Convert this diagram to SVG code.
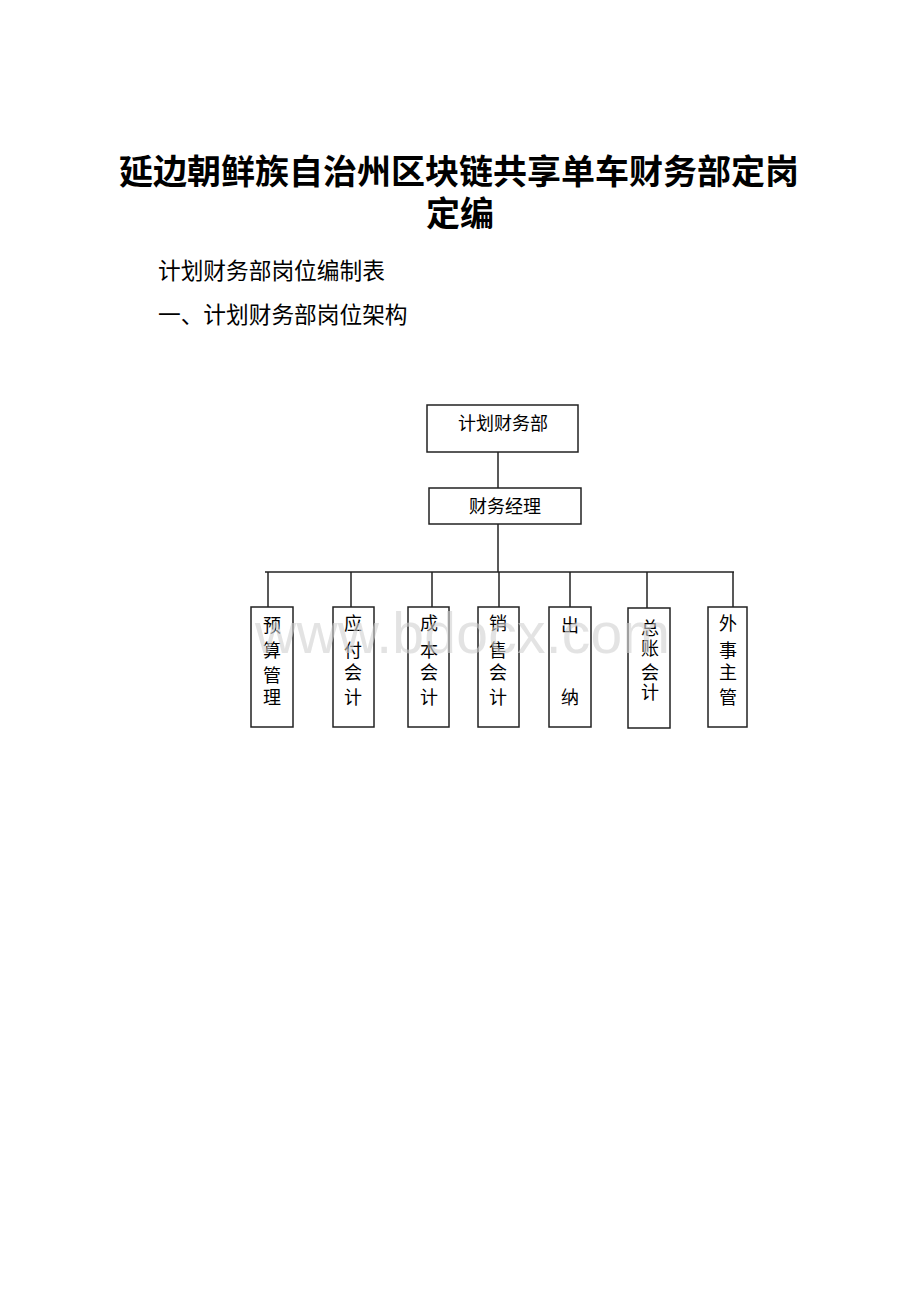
<svg xmlns="http://www.w3.org/2000/svg" width="920" height="1302" viewBox="0 0 920 1302">
<style>
.t{font-family:"Noto Sans CJK SC","Liberation Sans",sans-serif;fill:#000}
.title{font-size:34px;font-weight:bold;text-anchor:middle}
.h{font-size:22.7px}
.n{font-size:18px;text-anchor:middle}
.box{fill:#fff;stroke:#222;stroke-width:1.5}
.ln{stroke:#222;stroke-width:1.5;fill:none}
.wm{font-family:"Liberation Sans",Arial,sans-serif;font-size:57px;fill:#d0d0d0;fill-opacity:0.6}
</style>
<rect width="920" height="1302" fill="#fff"/>
<text class="t title" x="459" y="184">延边朝鲜族自治州区块链共享单车财务部定岗</text>
<text class="t title" x="460" y="226">定编</text>
<text class="t h" x="158" y="279">计划财务部岗位编制表</text>
<text class="t h" x="158" y="323">一、计划财务部岗位架构</text>
<g id="connectors">
<line class="ln" x1="498" y1="452" x2="498" y2="488"/>
<line class="ln" x1="498" y1="524" x2="498" y2="572"/>
<line class="ln" x1="265" y1="572" x2="734" y2="572"/>
<line class="ln" x1="268" y1="572" x2="268" y2="607"/>
<line class="ln" x1="351" y1="572" x2="351" y2="607"/>
<line class="ln" x1="432" y1="572" x2="432" y2="607"/>
<line class="ln" x1="499" y1="572" x2="499" y2="607"/>
<line class="ln" x1="570" y1="572" x2="570" y2="607"/>
<line class="ln" x1="647" y1="572" x2="647" y2="608"/>
<line class="ln" x1="733" y1="572" x2="733" y2="607"/>
</g>
<g id="n_dept"><rect class="box" x="427" y="405" width="151" height="47"/><text class="t n" x="503" y="430">计划财务部</text></g>
<g id="n_mgr"><rect class="box" x="429" y="488" width="152" height="36"/><text class="t n" x="505" y="513">财务经理</text></g>
<g id="n1"><rect class="box" x="251" y="607" width="42" height="120"/>
<text class="t n" x="272" y="632">预</text><text class="t n" x="272" y="657">算</text><text class="t n" x="272" y="682">管</text><text class="t n" x="272" y="704">理</text></g>
<g id="n2"><rect class="box" x="333" y="607" width="41" height="120"/>
<text class="t n" x="353" y="630">应</text><text class="t n" x="353" y="657">付</text><text class="t n" x="353" y="679">会</text><text class="t n" x="353" y="704">计</text></g>
<g id="n3"><rect class="box" x="408" y="607" width="41" height="120"/>
<text class="t n" x="429" y="630">成</text><text class="t n" x="429" y="657">本</text><text class="t n" x="429" y="679">会</text><text class="t n" x="429" y="704">计</text></g>
<g id="n4"><rect class="box" x="478" y="607" width="41" height="120"/>
<text class="t n" x="498" y="630">销</text><text class="t n" x="498" y="657">售</text><text class="t n" x="498" y="679">会</text><text class="t n" x="498" y="704">计</text></g>
<g id="n5"><rect class="box" x="549" y="607" width="42" height="120"/>
<text class="t n" x="570" y="632">出</text><text class="t n" x="570" y="704">纳</text></g>
<g id="n6"><rect class="box" x="628" y="608" width="42" height="120"/>
<text class="t n" x="650" y="635">总</text><text class="t n" x="650" y="655">账</text><text class="t n" x="650" y="679">会</text><text class="t n" x="650" y="699">计</text></g>
<g id="n7"><rect class="box" x="708" y="607" width="39" height="120"/>
<text class="t n" x="728" y="630">外</text><text class="t n" x="728" y="657">事</text><text class="t n" x="728" y="679">主</text><text class="t n" x="728" y="704">管</text></g>
<text class="wm" x="255" y="653" textLength="415">www.bdocx.com</text>
</svg>
